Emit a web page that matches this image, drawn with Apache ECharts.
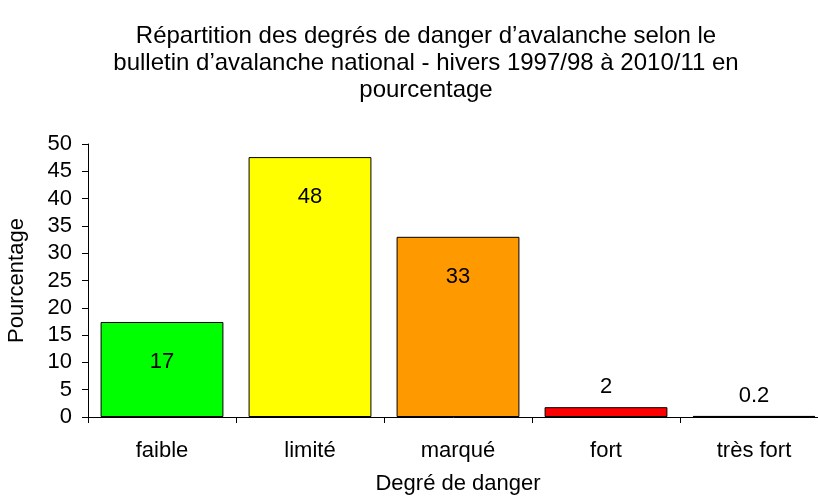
<!DOCTYPE html>
<html>
<head>
<meta charset="utf-8">
<script src="https://cdn.jsdelivr.net/npm/echarts@6/dist/echarts.min.js"></script>
<style>
html, body { margin: 0; padding: 0; background: #fff; }
#chart { width: 818px; height: 496px; }
</style>
</head>
<body>
<div id="chart"></div>
<script>
var categories = ['faible', 'limité', 'marqué', 'fort', 'très fort'];
var values = [17.4, 47.6, 33.0, 1.8, 0.2];
var labelTexts = ['17', '48', '33', '2', '0.2'];
var barColors = ['#00ff00', '#ffff00', '#ff9900', '#ff0000', '#000000'];
var yTicks = [0, 5, 10, 15, 20, 25, 30, 35, 40, 45, 50];

var font = 'Liberation Sans, Arial, sans-serif';

var myChart = echarts.init(document.getElementById('chart'));

var seriesData = values.map(function (v, i) {
    var small = v < 5;
    return {
        value: v,
        itemStyle: { color: barColors[i] },
        label: {
            show: true,
            position: small ? 'top' : 'insideTop',
            distance: small ? 9 : 29,
            formatter: labelTexts[i]
        }
    };
});

var option = {
    animation: false,
    backgroundColor: '#fff',
    title: {
        text: 'Répartition des degrés de danger d’avalanche selon le\nbulletin d’avalanche national - hivers 1997/98 à 2010/11 en\npourcentage',
        left: 421,
        top: 18,
        textAlign: 'center',
        textStyle: {
            fontFamily: font,
            fontSize: 24,
            fontWeight: 'normal',
            color: '#000',
            lineHeight: 27
        }
    },
    grid: {
        left: 88,
        right: -10,
        top: 144,
        bottom: 79,
        outerBoundsMode: 'none',
        containLabel: false
    },
    xAxis: {
        type: 'category',
        data: categories,
        name: 'Degré de danger',
        nameLocation: 'middle',
        nameGap: 56,
        nameTextStyle: { fontFamily: font, fontSize: 22, color: '#000' },
        axisLine: { lineStyle: { color: '#000', width: 1 } },
        axisTick: { show: true, alignWithLabel: false, length: 6, lineStyle: { color: '#000' } },
        axisLabel: { fontFamily: font, fontSize: 22, color: '#000', margin: 23 }
    },
    yAxis: {
        type: 'value',
        min: yTicks[0],
        max: yTicks[yTicks.length - 1],
        interval: 5,
        name: 'Pourcentage',
        nameLocation: 'middle',
        nameGap: 60,
        nameRotate: 90,
        nameTextStyle: { fontFamily: font, fontSize: 22, color: '#000' },
        axisLine: { show: true, lineStyle: { color: '#000', width: 1 } },
        axisTick: { show: true, length: 6, lineStyle: { color: '#000' } },
        axisLabel: { fontFamily: font, fontSize: 22, color: '#000', margin: 16 },
        splitLine: { show: false }
    },
    series: [{
        type: 'bar',
        data: seriesData,
        barCategoryGap: '17%',
        itemStyle: { borderColor: '#000', borderWidth: 1 },
        label: {
            fontFamily: font,
            fontSize: 22,
            color: '#000'
        }
    }]
};

myChart.setOption(option);
</script>
</body>
</html>
